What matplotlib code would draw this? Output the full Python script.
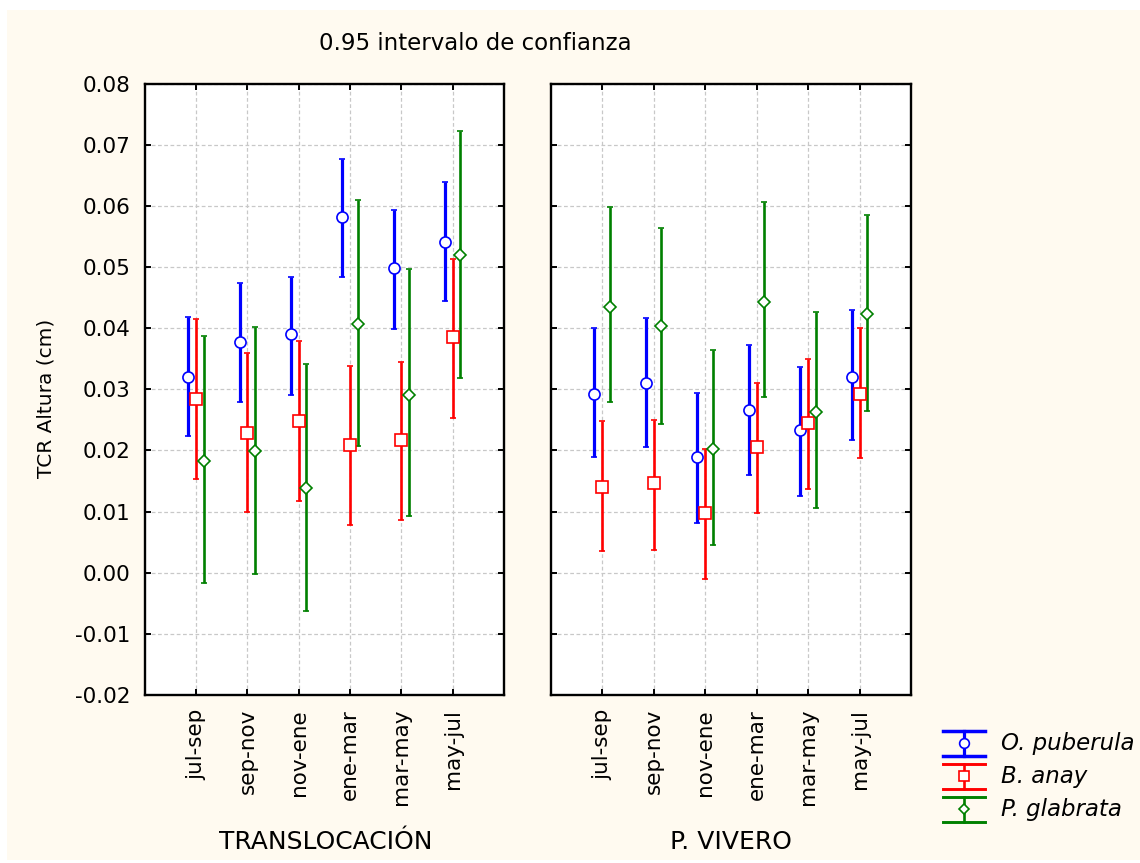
import matplotlib
matplotlib.use("Agg")
import matplotlib.pyplot as plt
from matplotlib.lines import Line2D
from matplotlib.patches import Rectangle

# periods on the x axis
periods = ["jul-sep", "sep-nov", "nov-ene", "ene-mar", "mar-may", "may-jul"]
species = ["O. puberula", "B. anay", "P. glabrata"]

# TRANSLOCACION: mean and 0.95 CI limits
trans_op_mean = [0.0321, 0.0378, 0.0390, 0.0582, 0.0498, 0.0541]
trans_op_low = [0.0224, 0.0279, 0.0291, 0.0483, 0.0399, 0.0445]
trans_op_high = [0.0418, 0.0474, 0.0484, 0.0677, 0.0594, 0.0639]

trans_ba_mean = [0.0285, 0.0229, 0.0249, 0.0209, 0.0217, 0.0385]
trans_ba_low = [0.0154, 0.0099, 0.0118, 0.0078, 0.0086, 0.0253]
trans_ba_high = [0.0415, 0.0360, 0.0379, 0.0339, 0.0345, 0.0514]

trans_pg_mean = [0.0183, 0.0199, 0.0139, 0.0407, 0.0291, 0.0519]
trans_pg_low = [-0.0017, -0.0002, -0.0062, 0.0207, 0.0093, 0.0319]
trans_pg_high = [0.0387, 0.0402, 0.0342, 0.0610, 0.0497, 0.0723]

# P. VIVERO
viv_op_mean = [0.0293, 0.0310, 0.0189, 0.0266, 0.0234, 0.0321]
viv_op_low = [0.0189, 0.0206, 0.0082, 0.0160, 0.0126, 0.0217]
viv_op_high = [0.0400, 0.0417, 0.0294, 0.0372, 0.0337, 0.0429]

viv_ba_mean = [0.0141, 0.0146, 0.0098, 0.0206, 0.0245, 0.0293]
viv_ba_low = [0.0035, 0.0037, -0.0010, 0.0097, 0.0137, 0.0188]
viv_ba_high = [0.0249, 0.0250, 0.0203, 0.0310, 0.0350, 0.0401]

viv_pg_mean = [0.0435, 0.0403, 0.0203, 0.0443, 0.0263, 0.0423]
viv_pg_low = [0.0279, 0.0244, 0.0045, 0.0288, 0.0106, 0.0265]
viv_pg_high = [0.0598, 0.0564, 0.0364, 0.0607, 0.0426, 0.0585]

yticks = [-0.02, -0.01, 0.00, 0.01, 0.02, 0.03, 0.04, 0.05, 0.06, 0.07, 0.08]

colors = ["#0000ff", "#ff0000", "#008000"]
markers = ["o", "s", "D"]
msizes = [8.0, 8.0, 6.2]
lwidths = [2.3, 1.9, 1.9]
offsets = [-0.15, 0.0, 0.15]

W, H = 1140, 863
plt.rcParams["font.family"] = ["DejaVu Sans"]
fig = plt.figure(figsize=(W / 100, H / 100), dpi=100, facecolor="white")
fig.patches.append(Rectangle((7 / W, 1 - 860 / H), 1 - 7 / W, (860 - 10) / H,
                             transform=fig.transFigure, facecolor="#fffaf0",
                             edgecolor="none", zorder=-10))


def px(x, y):
    return x / W, 1 - y / H


ax1 = fig.add_axes([144.7 / W, 1 - 695 / H, (504 - 144.7) / W, (695 - 83.7) / H])
ax2 = fig.add_axes([550.7 / W, 1 - 695 / H, (911 - 550.7) / W, (695 - 83.7) / H])

panels = [
    (ax1, [(trans_op_mean, trans_op_low, trans_op_high),
           (trans_ba_mean, trans_ba_low, trans_ba_high),
           (trans_pg_mean, trans_pg_low, trans_pg_high)]),
    (ax2, [(viv_op_mean, viv_op_low, viv_op_high),
           (viv_ba_mean, viv_ba_low, viv_ba_high),
           (viv_pg_mean, viv_pg_low, viv_pg_high)]),
]

for ax, series in panels:
    ax.set_facecolor("white")
    for i, (mean, low, high) in enumerate(series):
        xs = [k + 1 + offsets[i] for k in range(len(periods))]
        err = [[m - l for m, l in zip(mean, low)], [h - m for m, h in zip(mean, high)]]
        ax.errorbar(xs, mean, yerr=err, fmt=markers[i], color=colors[i],
                    ecolor=colors[i], elinewidth=lwidths[i], capsize=2.0,
                    capthick=2.0, markersize=msizes[i], markerfacecolor="white",
                    markeredgecolor=colors[i], markeredgewidth=1.2, zorder=3)
    ax.set_xlim(0, 7)
    ax.set_ylim(-0.02, 0.08)
    ax.set_xticks(range(1, len(periods) + 1))
    ax.set_xticklabels(periods, rotation=90, fontsize=15.5)
    ax.set_yticks(yticks)
    ax.grid(True, color="#c8c8c8", linestyle=(0, (3, 2)), linewidth=0.9)
    ax.set_axisbelow(True)
    ax.tick_params(direction="in", length=4, width=1.4, top=True, right=True,
                   labelsize=15.5, pad=10)
    for s in ax.spines.values():
        s.set_linewidth(1.7)

ax1.set_yticklabels(["%.2f" % v for v in yticks])
ax2.set_yticklabels([])
ax1.set_ylabel("TCR Altura (cm)", fontsize=14.5)
ax1.yaxis.set_label_coords(-0.248, 0.486)

fig.text(*px(475, 44), "0.95 intervalo de confianza", fontsize=16.5, ha="center", va="center")
fig.text(*px(325.5, 842), "TRANSLOCACIÓN", fontsize=18, ha="center", va="center")
fig.text(*px(731, 842), "P. VIVERO", fontsize=18, ha="center", va="center")

# legend symbols drawn like the error bars
leg_y = [743, 776, 809]
for i, name in enumerate(species):
    y = leg_y[i]
    for yy in (y - 12.5, y + 12.5):
        fig.add_artist(Line2D([943 / W, 985 / W], [1 - yy / H, 1 - yy / H],
                              color=colors[i], linewidth=lwidths[i] + 0.2))
    fig.add_artist(Line2D([964 / W, 964 / W], [1 - (y - 12.5) / H, 1 - (y + 12.5) / H],
                          color=colors[i], linewidth=lwidths[i]))
    fig.add_artist(Line2D([964 / W], [1 - y / H], marker=markers[i], markersize=msizes[i] - 1.0,
                          markerfacecolor="white", markeredgecolor=colors[i],
                          markeredgewidth=1.2, linestyle="none"))
    fig.text(*px(1001, y), name, fontsize=16.5, style="italic", ha="left", va="center")

fig.savefig("out.png", dpi=100, facecolor=fig.get_facecolor())
